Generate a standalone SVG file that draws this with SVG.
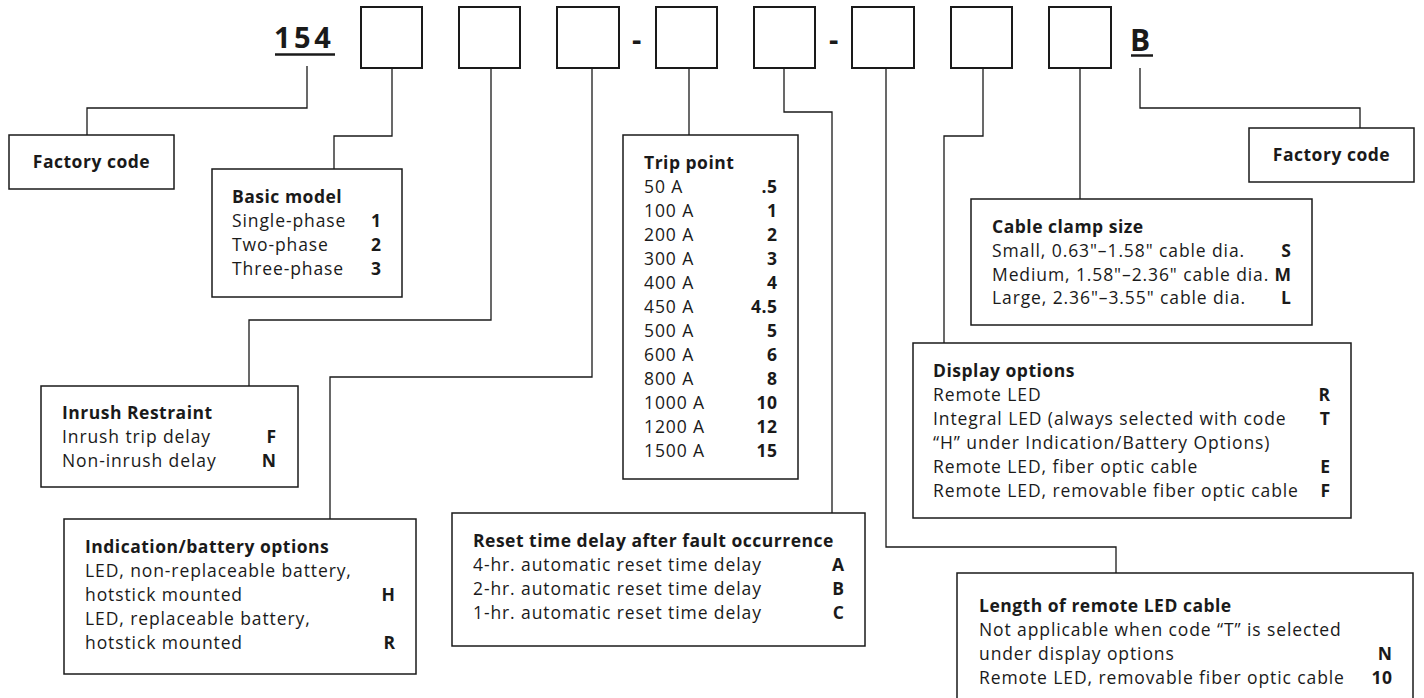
<svg xmlns="http://www.w3.org/2000/svg" width="1424" height="698" viewBox="0 0 1424 698">
<style>
text{font-family:"Open Sans","Noto Sans","Liberation Sans",sans-serif;font-size:17.5px;letter-spacing:0.9px;fill:#1a1a1a}
.b{font-weight:bold;letter-spacing:0.5px}
.v{font-weight:bold;text-anchor:end;letter-spacing:0.5px}
.c{text-anchor:middle}
.big{font-size:29px;font-weight:bold;letter-spacing:3.5px}
.sq{fill:#fff;stroke:#1a1a1a;stroke-width:2}
.box{fill:#fff;stroke:#1a1a1a;stroke-width:1.5}
.ul{stroke:#1a1a1a;stroke-width:2.5}
#connectors path{fill:none;stroke:#1a1a1a;stroke-width:1.3}
</style>
<rect width="1424" height="698" fill="#fff"/>
<g id="connectors">
<path d="M307 66V108H87V135"/>
<path d="M392 68V136H334V169"/>
<path d="M491 68V320H249V386"/>
<path d="M592 68V377H330V519"/>
<path d="M689 68V135"/>
<path d="M784 68V112H832V513"/>
<path d="M886 68V547H1116V573"/>
<path d="M983 68V136H944V343"/>
<path d="M1080 68V199"/>
<path d="M1140 68V108H1360V128"/>
</g>
<g id="code">
<text class="big" x="274" y="48">154</text>
<line class="ul" x1="275" y1="54.5" x2="335" y2="54.5"/>
<rect class="sq" x="361" y="7" width="61" height="61"/>
<rect class="sq" x="459" y="7" width="61" height="61"/>
<rect class="sq" x="557" y="7" width="62" height="61"/>
<text class="big" x="632" y="50" style="letter-spacing:0">-</text>
<rect class="sq" x="656" y="7" width="61" height="61"/>
<rect class="sq" x="754" y="7" width="61" height="61"/>
<text class="big" x="829" y="50" style="letter-spacing:0">-</text>
<rect class="sq" x="852" y="7" width="62" height="61"/>
<rect class="sq" x="951" y="7" width="61" height="61"/>
<rect class="sq" x="1049" y="7" width="62" height="61"/>
<text class="big" x="1130" y="51" style="letter-spacing:0;font-size:30px">B</text>
<line class="ul" x1="1131" y1="55.5" x2="1153" y2="55.5"/>
</g>
<g id="factory-left">
<rect class="box" x="9" y="135" width="165" height="54"/>
<text class="b c" x="91.5" y="168">Factory code</text>
</g>
<g id="factory-right">
<rect class="box" x="1249" y="128" width="165" height="54"/>
<text class="b c" x="1331.5" y="161">Factory code</text>
</g>
<g id="basic-model">
<rect class="box" x="212" y="169" width="190" height="128"/>
<text class="b" x="232" y="203">Basic model</text>
<text x="232" y="227">Single-phase</text><text class="v" x="381.5" y="227">1</text>
<text x="232" y="251">Two-phase</text><text class="v" x="381.5" y="251">2</text>
<text x="232" y="275">Three-phase</text><text class="v" x="381.5" y="275">3</text>
</g>
<g id="inrush">
<rect class="box" x="41" y="386" width="257" height="101"/>
<text class="b" x="62" y="419">Inrush Restraint</text>
<text x="62" y="443">Inrush trip delay</text><text class="v" x="276.5" y="443">F</text>
<text x="62" y="467">Non-inrush delay</text><text class="v" x="276.5" y="467">N</text>
</g>
<g id="indication">
<rect class="box" x="64" y="519" width="352" height="155"/>
<text class="b" x="85" y="553">Indication/battery options</text>
<text x="85" y="577">LED, non-replaceable battery,</text>
<text x="85" y="601">hotstick mounted</text><text class="v" x="395.5" y="601">H</text>
<text x="85" y="625">LED, replaceable battery,</text>
<text x="85" y="649">hotstick mounted</text><text class="v" x="395.5" y="649">R</text>
</g>
<g id="trip-point">
<rect class="box" x="623" y="135" width="175" height="344"/>
<text class="b" x="644" y="169">Trip point</text>
<text x="644" y="193">50 A</text><text class="v" x="777.5" y="193">.5</text>
<text x="644" y="217">100 A</text><text class="v" x="777.5" y="217">1</text>
<text x="644" y="241">200 A</text><text class="v" x="777.5" y="241">2</text>
<text x="644" y="265">300 A</text><text class="v" x="777.5" y="265">3</text>
<text x="644" y="289">400 A</text><text class="v" x="777.5" y="289">4</text>
<text x="644" y="313">450 A</text><text class="v" x="777.5" y="313">4.5</text>
<text x="644" y="337">500 A</text><text class="v" x="777.5" y="337">5</text>
<text x="644" y="361">600 A</text><text class="v" x="777.5" y="361">6</text>
<text x="644" y="385">800 A</text><text class="v" x="777.5" y="385">8</text>
<text x="644" y="409">1000 A</text><text class="v" x="777.5" y="409">10</text>
<text x="644" y="433">1200 A</text><text class="v" x="777.5" y="433">12</text>
<text x="644" y="457">1500 A</text><text class="v" x="777.5" y="457">15</text>
</g>
<g id="reset">
<rect class="box" x="452" y="513" width="413" height="133"/>
<text class="b" x="473" y="547">Reset time delay after fault occurrence</text>
<text x="473" y="571">4-hr. automatic reset time delay</text><text class="v" x="844.5" y="571">A</text>
<text x="473" y="595">2-hr. automatic reset time delay</text><text class="v" x="844.5" y="595">B</text>
<text x="473" y="619">1-hr. automatic reset time delay</text><text class="v" x="844.5" y="619">C</text>
</g>
<g id="cable-clamp">
<rect class="box" x="971" y="199" width="341" height="126"/>
<text class="b" x="992" y="233">Cable clamp size</text>
<text x="992" y="257">Small, 0.63"–1.58" cable dia.</text><text class="v" x="1291.5" y="257">S</text>
<text x="992" y="281">Medium, 1.58"–2.36" cable dia.</text><text class="v" x="1291.5" y="281">M</text>
<text x="992" y="304">Large, 2.36"–3.55" cable dia.</text><text class="v" x="1291.5" y="304">L</text>
</g>
<g id="display">
<rect class="box" x="913" y="343" width="438" height="175"/>
<text class="b" x="933" y="377">Display options</text>
<text x="933" y="401">Remote LED</text><text class="v" x="1330.5" y="401">R</text>
<text x="933" y="425">Integral LED (always selected with code</text><text class="v" x="1330.5" y="425">T</text>
<text x="933" y="449">“H” under Indication/Battery Options)</text>
<text x="933" y="473">Remote LED, fiber optic cable</text><text class="v" x="1330.5" y="473">E</text>
<text x="933" y="497">Remote LED, removable fiber optic cable</text><text class="v" x="1330.5" y="497">F</text>
</g>
<g id="length">
<rect class="box" x="957" y="573" width="456" height="140"/>
<text class="b" x="979" y="612">Length of remote LED cable</text>
<text x="979" y="636">Not applicable when code “T” is selected</text>
<text x="979" y="660">under display options</text><text class="v" x="1392.5" y="660">N</text>
<text x="979" y="684">Remote LED, removable fiber optic cable</text><text class="v" x="1392.5" y="684">10</text>
</g>
</svg>
